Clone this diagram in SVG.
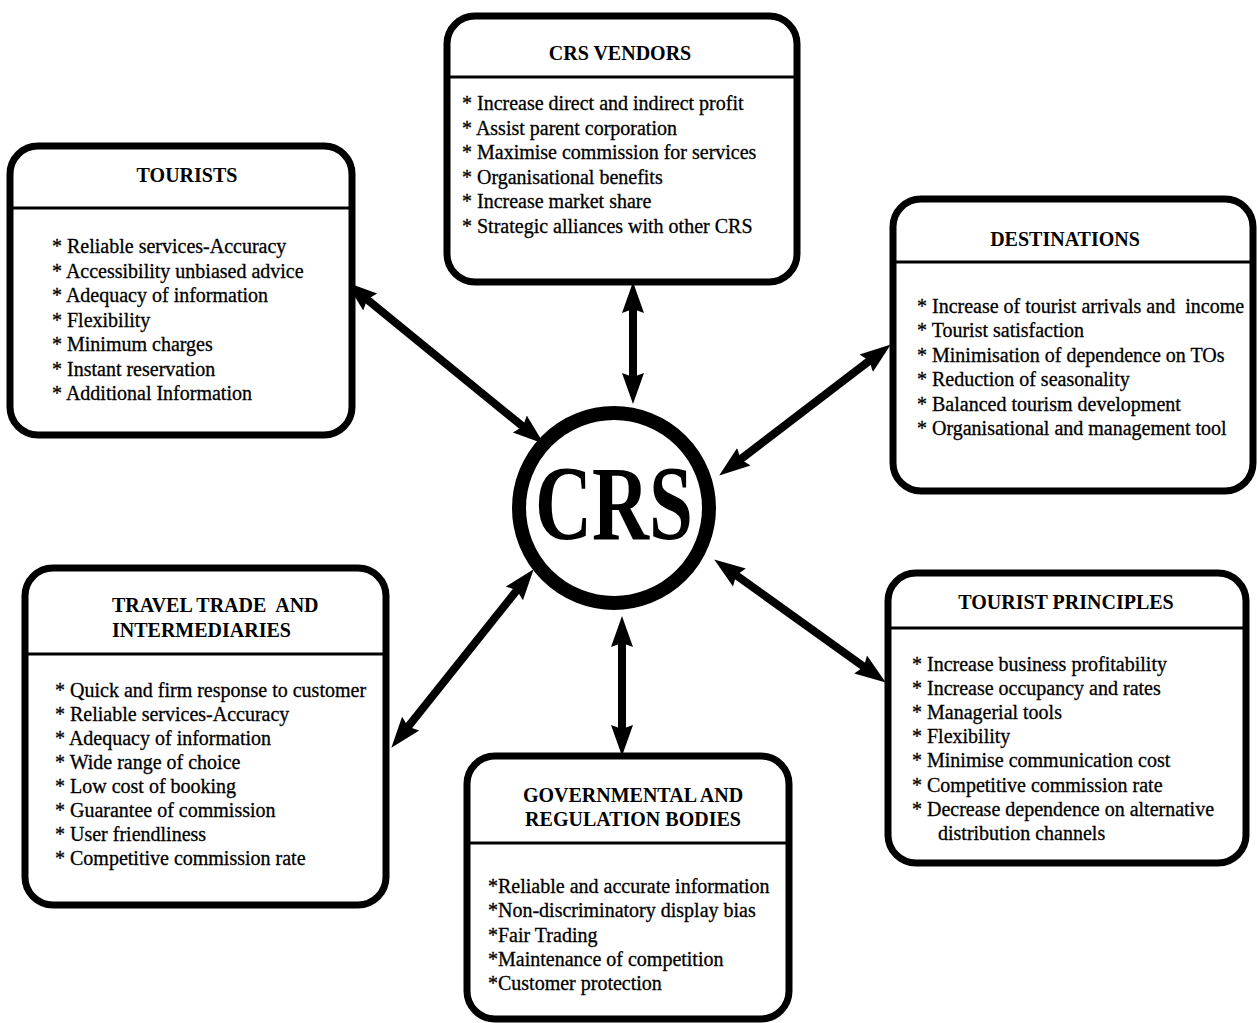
<svg xmlns="http://www.w3.org/2000/svg" width="1257" height="1023" viewBox="0 0 1257 1023">
<style>
.box{fill:#fff;stroke:#000;stroke-width:7}
.div{stroke:#000;stroke-width:3}
.title{font-family:"Liberation Serif","Times New Roman",serif;font-weight:bold;font-size:20px;fill:#000;white-space:pre}
.body{font-family:"Liberation Serif","Times New Roman",serif;font-size:20px;fill:#000;stroke:#000;stroke-width:0.3;white-space:pre}
.conn{stroke:#000;stroke-width:8;fill:none;marker-start:url(#ah);marker-end:url(#ah)}
</style>
<defs>
<marker id="ah" markerUnits="userSpaceOnUse" markerWidth="32" markerHeight="24" viewBox="0 0 32 24" refX="16" refY="12" orient="auto-start-reverse">
<path d="M0,1 L31,12 L0,23 L4,12 Z" fill="#000"/>
</marker>
</defs>
<rect width="1257" height="1023" fill="#fff"/>

<g id="connectors">
<line class="conn" x1="357.8" y1="291.8" x2="532.2" y2="434.2"/>
<line class="conn" x1="633" y1="297" x2="633" y2="389"/>
<line class="conn" x1="878.9" y1="353.5" x2="731.1" y2="466.5"/>
<line class="conn" x1="524.3" y1="580.9" x2="400.7" y2="736.1"/>
<line class="conn" x1="622" y1="631" x2="622" y2="741"/>
<line class="conn" x1="726.4" y1="568.2" x2="873.6" y2="673.8"/>
</g>

<g id="crs">
<circle cx="614" cy="508" r="95" fill="#fff" stroke="#000" stroke-width="14"/>
<text class="title" x="614" y="539" text-anchor="middle" textLength="158" lengthAdjust="spacingAndGlyphs" style="font-size:106px">CRS</text>
</g>

<g id="tourists">
<rect class="box" x="10" y="146" width="342" height="289" rx="28"/>
<line class="div" x1="10" y1="208" x2="352" y2="208"/>
<text class="title" x="187" y="182" text-anchor="middle">TOURISTS</text>
<text class="body" x="52" y="253">* Reliable services-Accuracy</text>
<text class="body" x="52" y="277.5">* Accessibility unbiased advice</text>
<text class="body" x="52" y="302">* Adequacy of information</text>
<text class="body" x="52" y="326.5">* Flexibility</text>
<text class="body" x="52" y="351">* Minimum charges</text>
<text class="body" x="52" y="375.5">* Instant reservation</text>
<text class="body" x="52" y="400">* Additional Information</text>
</g>

<g id="crs-vendors">
<rect class="box" x="447" y="16" width="350" height="266" rx="28"/>
<line class="div" x1="447" y1="77" x2="797" y2="77"/>
<text class="title" x="620" y="60" text-anchor="middle">CRS VENDORS</text>
<text class="body" x="462" y="110">* Increase direct and indirect profit</text>
<text class="body" x="462" y="134.6">* Assist parent corporation</text>
<text class="body" x="462" y="159.2">* Maximise commission for services</text>
<text class="body" x="462" y="183.8">* Organisational benefits</text>
<text class="body" x="462" y="208.4">* Increase market share</text>
<text class="body" x="462" y="233">* Strategic alliances with other CRS</text>
</g>

<g id="destinations">
<rect class="box" x="893" y="199" width="360" height="292" rx="28"/>
<line class="div" x1="893" y1="262" x2="1253" y2="262"/>
<text class="title" x="1065" y="246" text-anchor="middle">DESTINATIONS</text>
<text class="body" x="917" y="313">* Increase of tourist arrivals and  income</text>
<text class="body" x="917" y="337.4">* Tourist satisfaction</text>
<text class="body" x="917" y="361.8">* Minimisation of dependence on TOs</text>
<text class="body" x="917" y="386.2">* Reduction of seasonality</text>
<text class="body" x="917" y="410.6">* Balanced tourism development</text>
<text class="body" x="917" y="435">* Organisational and management tool</text>
</g>

<g id="travel-trade">
<rect class="box" x="25" y="568" width="361" height="337" rx="28"/>
<line class="div" x1="25" y1="654" x2="386" y2="654"/>
<text class="title" x="112" y="612">TRAVEL TRADE  AND</text>
<text class="title" x="112" y="637">INTERMEDIARIES</text>
<text class="body" x="55" y="697">* Quick and firm response to customer</text>
<text class="body" x="55" y="721">* Reliable services-Accuracy</text>
<text class="body" x="55" y="745">* Adequacy of information</text>
<text class="body" x="55" y="769">* Wide range of choice</text>
<text class="body" x="55" y="793">* Low cost of booking</text>
<text class="body" x="55" y="817">* Guarantee of commission</text>
<text class="body" x="55" y="841">* User friendliness</text>
<text class="body" x="55" y="865">* Competitive commission rate</text>
</g>

<g id="governmental">
<rect class="box" x="467" y="756" width="322" height="263" rx="28"/>
<line class="div" x1="467" y1="843" x2="789" y2="843"/>
<text class="title" x="633" y="802" text-anchor="middle">GOVERNMENTAL AND</text>
<text class="title" x="633" y="826" text-anchor="middle">REGULATION BODIES</text>
<text class="body" x="488" y="893">*Reliable and accurate information</text>
<text class="body" x="488" y="917.3">*Non-discriminatory display bias</text>
<text class="body" x="488" y="941.6">*Fair Trading</text>
<text class="body" x="488" y="965.9">*Maintenance of competition</text>
<text class="body" x="488" y="990.2">*Customer protection</text>
</g>

<g id="tourist-principles">
<rect class="box" x="888" y="573" width="358" height="290" rx="28"/>
<line class="div" x1="888" y1="628" x2="1246" y2="628"/>
<text class="title" x="1066" y="609" text-anchor="middle">TOURIST PRINCIPLES</text>
<text class="body" x="912" y="671">* Increase business profitability</text>
<text class="body" x="912" y="695.1">* Increase occupancy and rates</text>
<text class="body" x="912" y="719.2">* Managerial tools</text>
<text class="body" x="912" y="743.3">* Flexibility</text>
<text class="body" x="912" y="767.4">* Minimise communication cost</text>
<text class="body" x="912" y="791.5">* Competitive commission rate</text>
<text class="body" x="912" y="815.6">* Decrease dependence on alternative</text>
<text class="body" x="938" y="839.7">distribution channels</text>
</g>
</svg>
